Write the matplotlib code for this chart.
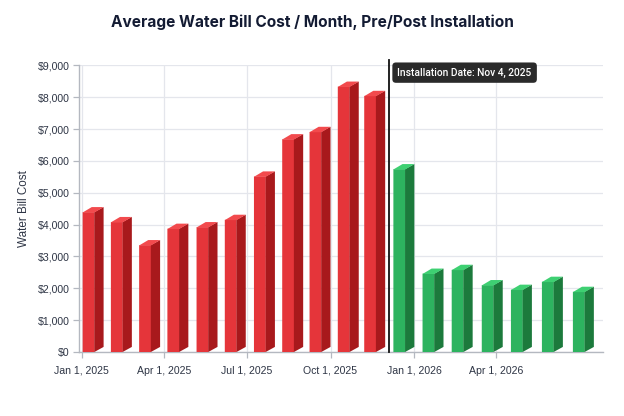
import datetime as dt

import matplotlib
matplotlib.use("Agg")
import matplotlib.pyplot as plt
import matplotlib.dates as mdates
from matplotlib.patches import Polygon
from matplotlib.ticker import FuncFormatter

# Bill dates (as drawn on the chart) and the monthly cost
billDates = [
    "2025-01-02", "2025-02-02", "2025-03-05", "2025-04-05", "2025-05-07",
    "2025-06-07", "2025-07-09", "2025-08-09", "2025-09-08", "2025-10-09",
    "2025-11-07", "2025-12-09", "2026-01-10", "2026-02-11", "2026-03-16",
    "2026-04-17", "2026-05-21", "2026-06-24",
]
billCosts = [
    4390, 4080, 3355, 3870, 3920, 4150, 5510, 6680, 6910, 8330,
    8040, 5740, 2460, 2580, 2100, 1955, 2205, 1890,
]
preCount = 11  # first 11 bills are before the install

installLineDate = "2025-12-04"
installLabel = "Installation Date: Nov 4, 2025"
tickDates = ["2025-01-01", "2025-04-01", "2025-07-01", "2025-10-01", "2026-01-01", "2026-04-01"]
yTicks = [0, 1000, 2000, 3000, 4000, 5000, 6000, 7000, 8000, 9000]

redFront, redSide, redTop = "#e5353a", "#a8191c", "#f24a4d"
greenFront, greenSide, greenTop = "#2db35f", "#1c7a3c", "#3ed072"

barWidth = 13   # days, front face
depthX = 10     # days
depthY = 160    # dollars


def toNum(s):
    return mdates.date2num(dt.datetime.strptime(s, "%Y-%m-%d"))


fig = plt.figure(figsize=(6.24, 4.16), dpi=100)
ax = fig.add_axes([0.1266, 0.1538, 0.8397, 0.6892])

xs = [toNum(d) for d in billDates]
frontColors = [redFront if i < preCount else greenFront for i in range(len(xs))]

bars = ax.bar(xs, billCosts, width=barWidth, align="edge", color=frontColors,
              linewidth=0, zorder=3)
for b in bars:
    b.set_snap(False)

# fake 3D: side and top faces
for i, (x, v) in enumerate(zip(xs, billCosts)):
    pre = i < preCount
    side = redSide if pre else greenSide
    top = redTop if pre else greenTop
    xr = x + barWidth
    ax.add_patch(Polygon([(xr - 0.2, 0), (xr + depthX, depthY), (xr + depthX, v + depthY), (xr - 0.2, v)],
                         closed=True, facecolor=side, edgecolor="none", zorder=3, snap=False))
    ax.add_patch(Polygon([(x, v - 10), (xr, v - 10), (xr + depthX, v + depthY), (x + depthX, v + depthY)],
                         closed=True, facecolor=top, edgecolor="none", zorder=3, snap=False))

ax.set_xlim(toNum("2024-12-29"), toNum("2026-07-27"))
ax.set_ylim(0, 9000)
ax.set_yticks(yTicks)
ax.yaxis.set_major_formatter(FuncFormatter(lambda v, p: f"${v:,.0f}"))
ax.set_xticks([toNum(d) for d in tickDates])
ax.set_xticklabels([dt.datetime.strptime(d, "%Y-%m-%d").strftime("%b %-d, %Y") for d in tickDates])

ax.grid(True, color="#e4e6ec", linewidth=0.9, zorder=0)
ax.set_axisbelow(True)
for s in ["top", "right"]:
    ax.spines[s].set_visible(False)
for s in ["left", "bottom"]:
    ax.spines[s].set_color("#b4b8c0")
    ax.spines[s].set_linewidth(1.0)
ax.tick_params(axis="both", colors="#b4b8c0", labelcolor="#2e3545", labelsize=7.6,
               length=4, width=0.9, direction="out")
for lbl in ax.get_xticklabels() + ax.get_yticklabels():
    lbl.set_family(["Liberation Sans", "DejaVu Sans"])
ax.tick_params(axis="x", pad=6)
ax.tick_params(axis="y", pad=3)

ax.set_ylabel("Water Bill Cost", fontsize=8.4, color="#2e3545",
              family=["Liberation Sans", "DejaVu Sans"], labelpad=5)

# installation marker
lineX = toNum(installLineDate)
ax.plot([lineX, lineX], [0, 9170], color="#111111", linewidth=1.3, zorder=5, clip_on=False)
ax.text(lineX + 9.5, 8770, installLabel, fontsize=7.4, color="white", fontweight="medium",
        family=["Roboto", "DejaVu Sans"], ha="left", va="center", zorder=6,
        bbox=dict(boxstyle="round,pad=0.5,rounding_size=0.35", facecolor="#2a2a2a",
                  edgecolor="none"))

fig.text(0.5, 0.947, "Average Water Bill Cost / Month, Pre/Post Installation",
         fontsize=11.1, fontweight="bold", color="#131b33", ha="center", va="center",
         family=["Inter", "DejaVu Sans"])

fig.savefig("out.png", dpi=100, facecolor="white")
